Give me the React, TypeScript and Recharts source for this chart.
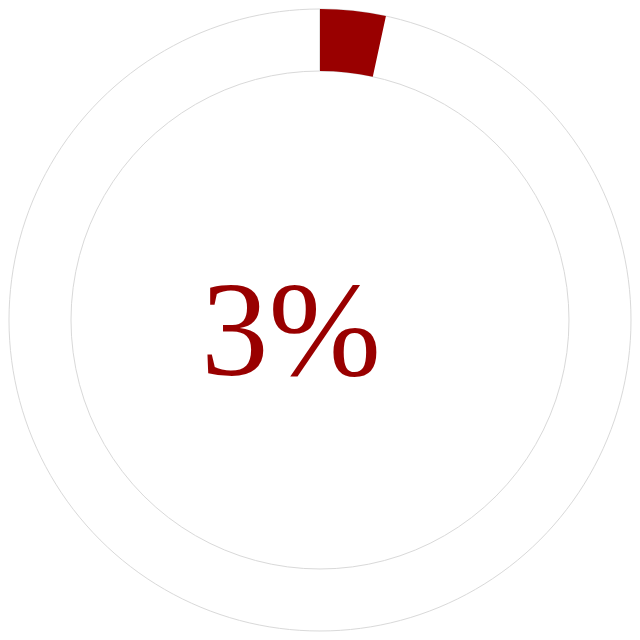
import { Pie, PieChart, Cell } from "recharts";

// share shown on the gauge (percent)
const gaugeNames = ["Done", "Rest"];
const gaugeValues = [3.4, 96.6];
const gaugeLabel = "3%";
const trackValues = [100];

const RED = "#990000";

export default function App() {
	const gaugeData = gaugeNames.map((name, i) => ({ name, value: gaugeValues[i] }));
	const trackData = trackValues.map((value) => ({ name: "track", value }));

	return (
		<div style={{ width: 640, height: 640, margin: -8 }}>
			<PieChart width={640} height={640} margin={{ top: 0, right: 0, bottom: 0, left: 0 }}>
				<Pie
					data={trackData}
					dataKey="value"
					cx={320}
					cy={320}
					innerRadius={249}
					outerRadius={311}
					startAngle={90}
					endAngle={-270}
					fill="#ffffff"
					stroke="#d9d9d9"
					strokeWidth={1}
					isAnimationActive={false}
				/>
				<Pie
					data={gaugeData}
					dataKey="value"
					cx={320}
					cy={320}
					innerRadius={249}
					outerRadius={311}
					startAngle={90}
					endAngle={-270}
					stroke="none"
					isAnimationActive={false}
				>
					{gaugeData.map((d, i) => (
						<Cell key={d.name} fill={i === 0 ? RED : "transparent"} />
					))}
				</Pie>
				<text
					x={291}
					y={375}
					textAnchor="middle"
					fill={RED}
					style={{ fontFamily: "'Liberation Serif', serif", fontSize: 135 }}
				>
					{gaugeLabel}
				</text>
			</PieChart>
		</div>
	);
}
